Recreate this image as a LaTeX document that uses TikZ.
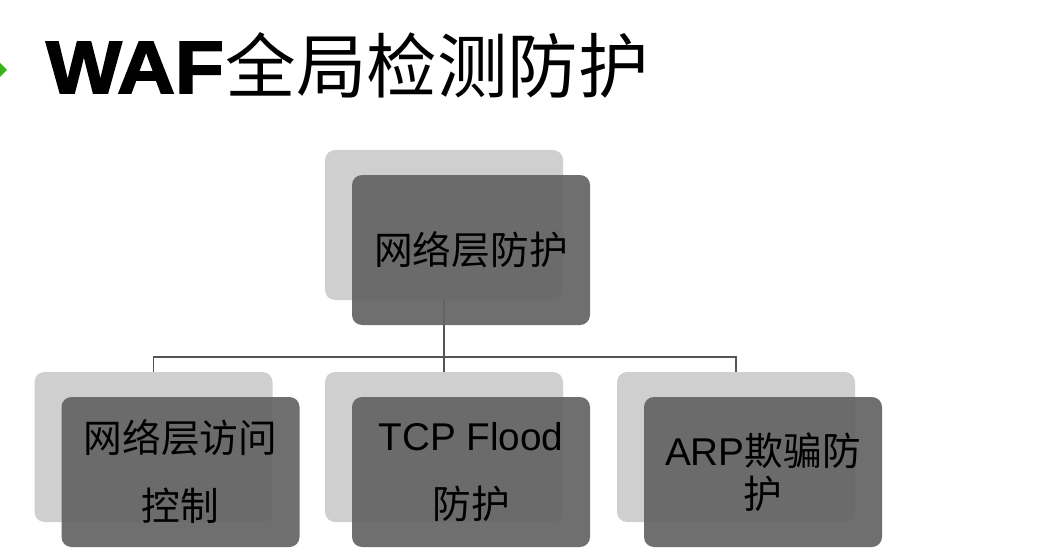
\documentclass[tikz,border=0pt]{standalone}
\usepackage{fontspec}
\setmainfont{Noto Sans CJK SC}
\newfontfamily\latinfont{Liberation Sans}
\newfontfamily\heavyfont[FakeBold=2.5,FakeStretch=1.08]{Liberation Sans Bold}
\usetikzlibrary{calc,backgrounds}
\definecolor{cardback}{RGB}{207,207,207}
\definecolor{cardfront}{RGB}{100,100,100}
\definecolor{linkgray}{RGB}{85,85,85}
\definecolor{bulletgreen}{RGB}{60,176,28}
\tikzstyle{backcard}=[fill=cardback,rounded corners=10pt,minimum width=238pt,minimum height=150pt,inner sep=0pt]
\tikzstyle{frontcard}=[fill=cardfront,fill opacity=0.93,text opacity=1,rounded corners=10pt,minimum width=238pt,minimum height=150pt,inner sep=0pt,align=center,text=black]
\tikzstyle{link}=[draw=linkgray,line width=1.2pt]
\newcommand{\newcard}[5][68]{% Syntax: [line skip] {name} {x} {y} {text}
	\node[backcard] (#2b) at (#3,#4) {};
	\node[frontcard,font=\fontsize{38.7}{#1}\selectfont] (#2f) at ([shift={(27,25)}]#2b.center) {#5};
}
\begin{document}
\begin{tikzpicture}[x=1pt,y=-1pt]
	\useasboundingbox (0,0) rectangle (1060,559);
	% title
	\fill[bulletgreen] (-7,70) -- (0,63) -- (7,70) -- (0,77) -- cycle;
	\node[anchor=base west,inner sep=0pt] (title) at (46,93) {{\fontsize{74}{74}\heavyfont WAF}\hspace{2pt}{\fontsize{70.5}{70}\selectfont 全局检测防护}};
	% cards
	\newcard{net}{444}{225}{网络层防护}
	\newcard{acl}{153.5}{447}{网络层访问\\控制}
	\newcard{tcp}{444}{447}{{\latinfont TCP Flood}\\防护}
	\newcard[43]{arp}{736}{447}{{\latinfont ARP}欺骗防\\护}
	% connectors
	\coordinate (bus) at (0,357);
	\begin{scope}[on background layer]
	\draw[link] (netb.south) -- (netb.south |- bus);
	\draw[link] (aclb.north) -- (aclb.north |- bus) -- (arpb.north |- bus) -- (arpb.north);
	\draw[link] (tcpb.north) -- (tcpb.north |- bus);
	\end{scope}
\end{tikzpicture}
\end{document}
